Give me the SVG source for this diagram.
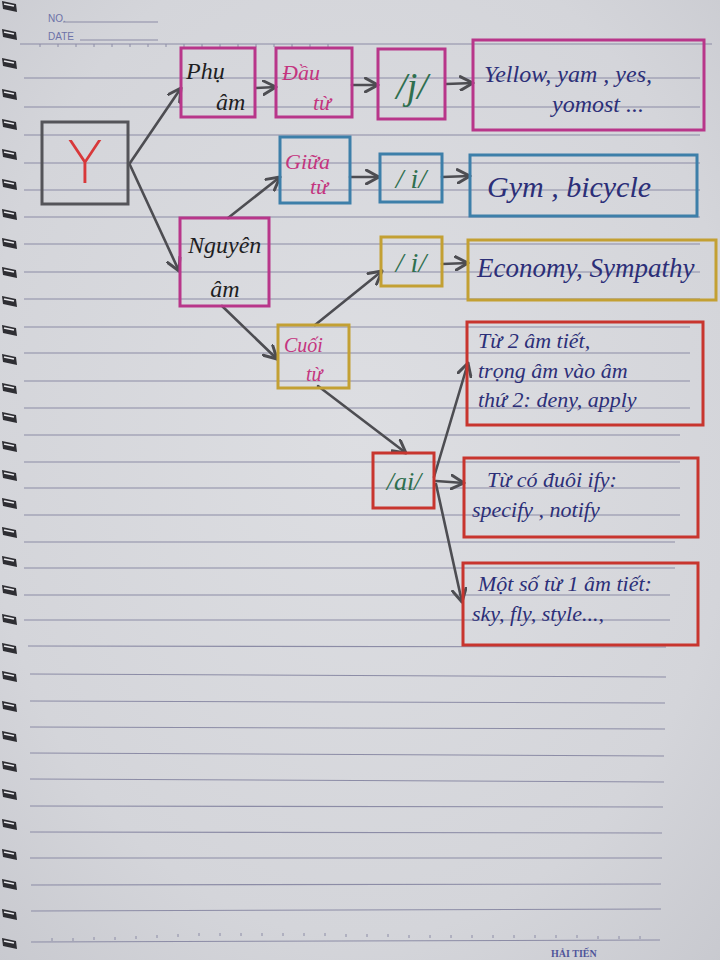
<svg xmlns="http://www.w3.org/2000/svg" width="720" height="960" viewBox="0 0 720 960">
<defs>
<radialGradient id="paperG" cx="0.5" cy="0.45" r="0.75">
<stop offset="0" stop-color="#dddee2"/>
<stop offset="0.7" stop-color="#d4d5da"/>
<stop offset="1" stop-color="#c8c9cf"/>
</radialGradient>
<marker id="arr" markerUnits="userSpaceOnUse" markerWidth="16" markerHeight="16" refX="12" refY="7" orient="auto" viewBox="0 0 14 14">
<path d="M1,1 L12,7 L1,13" fill="none" stroke="#4d4d52" stroke-width="2.6" stroke-linecap="round" stroke-linejoin="round"/>
</marker>
<g id="ring">
<path d="M2,0 L16,3 L17,11 L3,8 Z" fill="#2e2e33"/>
<path d="M4,3 L14,5" stroke="#e8e8ec" stroke-width="1.6"/>
</g>
</defs>
<style>
.rule{stroke:#8c8ca6;stroke-width:1.1;fill:none}
.tick{stroke:#8c8ca6;stroke-width:1}
.box{fill:none;stroke-width:3}
.mag{stroke:#b8368a}
.blu{stroke:#3d7fa9}
.yel{stroke:#c3a033}
.red{stroke:#c8352e}
.gry{stroke:#545459}
.conn{stroke:#4d4d52;stroke-width:2.6;fill:none;stroke-linecap:round}
.hw{font-family:"Liberation Serif","DejaVu Serif",serif;font-style:italic}
.blk{fill:#1e1e22}
.pnk{fill:#c4357f}
.grn{fill:#2f6f4f}
.ind{fill:#2c2f78}
.hdr{font-family:"Liberation Sans",Arial,sans-serif;fill:#6d72a8}
</style>
<g id="paper">
<rect x="0" y="0" width="720" height="960" fill="url(#paperG)"/>
<g id="spiral">
<use href="#ring" y="1"/><use href="#ring" y="29"/><use href="#ring" y="58"/><use href="#ring" y="89"/>
<use href="#ring" y="119"/><use href="#ring" y="149"/><use href="#ring" y="179"/><use href="#ring" y="209"/>
<use href="#ring" y="238"/><use href="#ring" y="267"/><use href="#ring" y="296"/><use href="#ring" y="325"/>
<use href="#ring" y="354"/><use href="#ring" y="383"/><use href="#ring" y="412"/><use href="#ring" y="441"/>
<use href="#ring" y="470"/><use href="#ring" y="498"/><use href="#ring" y="527"/><use href="#ring" y="556"/>
<use href="#ring" y="585"/><use href="#ring" y="614"/><use href="#ring" y="643"/><use href="#ring" y="671"/>
<use href="#ring" y="701"/><use href="#ring" y="731"/><use href="#ring" y="761"/><use href="#ring" y="789"/>
<use href="#ring" y="819"/><use href="#ring" y="849"/><use href="#ring" y="879"/><use href="#ring" y="909"/>
<use href="#ring" y="938"/>
</g>
<g id="rules">
<line class="rule" x1="20" y1="44" x2="712" y2="44"/>
<line class="rule" x1="24" y1="78" x2="700" y2="78"/>
<line class="rule" x1="24" y1="107" x2="700" y2="107"/>
<line class="rule" x1="24" y1="135" x2="700" y2="135"/>
<line class="rule" x1="24" y1="163" x2="700" y2="163"/>
<line class="rule" x1="24" y1="190" x2="700" y2="190"/>
<line class="rule" x1="24" y1="217" x2="700" y2="217"/>
<line class="rule" x1="24" y1="244" x2="700" y2="244"/>
<line class="rule" x1="24" y1="272" x2="700" y2="272"/>
<line class="rule" x1="24" y1="299" x2="700" y2="299"/>
<line class="rule" x1="24" y1="327" x2="690" y2="327"/>
<line class="rule" x1="24" y1="353" x2="690" y2="353"/>
<line class="rule" x1="24" y1="381" x2="690" y2="381"/>
<line class="rule" x1="24" y1="408" x2="690" y2="408"/>
<line class="rule" x1="24" y1="435" x2="680" y2="435"/>
<line class="rule" x1="24" y1="462" x2="680" y2="462"/>
<line class="rule" x1="24" y1="488" x2="680" y2="488"/>
<line class="rule" x1="24" y1="515" x2="680" y2="515"/>
<line class="rule" x1="24" y1="542" x2="675" y2="542"/>
<line class="rule" x1="24" y1="568" x2="675" y2="568"/>
<line class="rule" x1="24" y1="595" x2="670" y2="595"/>
<line class="rule" x1="24" y1="620" x2="670" y2="620"/>
<line class="rule" x1="28" y1="646" x2="666" y2="647"/>
<line class="rule" x1="30" y1="674" x2="666" y2="677"/>
<line class="rule" x1="30" y1="701" x2="665" y2="703"/>
<line class="rule" x1="30" y1="727" x2="665" y2="729"/>
<line class="rule" x1="30" y1="753" x2="664" y2="756"/>
<line class="rule" x1="30" y1="779" x2="664" y2="782"/>
<line class="rule" x1="30" y1="806" x2="663" y2="807"/>
<line class="rule" x1="30" y1="832" x2="662" y2="833"/>
<line class="rule" x1="30" y1="858" x2="662" y2="858"/>
<line class="rule" x1="31" y1="885" x2="661" y2="884"/>
<line class="rule" x1="31" y1="911" x2="661" y2="909"/>
<line class="rule" x1="31" y1="942" x2="660" y2="940"/>
<path class="tick" d="M40,44v3M58,44v3M76,44v3M94,44v3M112,44v3M130,44v3M148,44v3M166,44v3M184,44v3M202,44v3M220,44v3M238,44v3M256,44v3M274,44v3M292,44v3M310,44v3M328,44v3"/>
<path class="tick" d="M52,941v-3M73,941v-3M94,940v-3M115,940v-3M136,939v-3M157,938v-3M178,937v-3M199,936v-3M220,936v-3M241,936v-3M262,936v-3M283,936v-3M304,936v-3M325,936v-3M346,937v-3M367,937v-3M388,937v-3M409,938v-3M430,938v-3M451,938v-3M472,938v-3M493,938v-3M514,938v-3M535,938v-3M556,938v-3M577,938v-3M598,939v-3M619,939v-3M640,939v-3"/>
<text class="hdr" x="48" y="22" font-size="10">NO.</text>
<line class="rule" x1="63" y1="22" x2="158" y2="22"/>
<text class="hdr" x="48" y="40" font-size="10">DATE</text>
<line class="rule" x1="80" y1="40" x2="158" y2="40"/>
<text x="551" y="957" font-family="Liberation Serif,serif" font-size="10" font-weight="bold" fill="#4f559a">HẢI TIẾN</text>
</g>
</g>
<g id="connectors">
<line class="conn" x1="130" y1="163" x2="181" y2="88" marker-end="url(#arr)"/>
<line class="conn" x1="130" y1="165" x2="179" y2="271" marker-end="url(#arr)"/>
<line class="conn" x1="256" y1="88" x2="276" y2="87" marker-end="url(#arr)"/>
<line class="conn" x1="352" y1="85" x2="378" y2="85" marker-end="url(#arr)"/>
<line class="conn" x1="446" y1="84" x2="473" y2="83" marker-end="url(#arr)"/>
<line class="conn" x1="228" y1="218" x2="280" y2="177" marker-end="url(#arr)"/>
<line class="conn" x1="350" y1="177" x2="379" y2="177" marker-end="url(#arr)"/>
<line class="conn" x1="442" y1="177" x2="470" y2="176" marker-end="url(#arr)"/>
<line class="conn" x1="315" y1="325" x2="382" y2="271" marker-end="url(#arr)"/>
<line class="conn" x1="442" y1="264" x2="468" y2="263" marker-end="url(#arr)"/>
<line class="conn" x1="222" y1="306" x2="277" y2="359" marker-end="url(#arr)"/>
<line class="conn" x1="318" y1="386" x2="406" y2="453" marker-end="url(#arr)"/>
<line class="conn" x1="434" y1="477" x2="468" y2="363" marker-end="url(#arr)"/>
<line class="conn" x1="436" y1="481" x2="464" y2="483" marker-end="url(#arr)"/>
<line class="conn" x1="436" y1="484" x2="462" y2="602" marker-end="url(#arr)"/>
</g>
<g id="node-y">
<rect class="box gry" x="42" y="122" width="86" height="82"/>
<text x="85" y="183" text-anchor="middle" font-family="DejaVu Sans,sans-serif" font-weight="200" font-size="58" fill="#d8383a">Y</text>
</g>
<g id="node-phu-am">
<rect class="box mag" x="181" y="48" width="74" height="69"/>
<text class="hw blk" x="186" y="79" font-size="24">Phụ</text>
<text class="hw blk" x="216" y="110" font-size="24">âm</text>
</g>
<g id="node-dau-tu">
<rect class="box mag" x="276" y="48" width="76" height="69"/>
<text class="hw pnk" x="282" y="80" font-size="22">Đầu</text>
<text class="hw pnk" x="313" y="110" font-size="22">từ</text>
</g>
<g id="node-j">
<rect class="box mag" x="378" y="49" width="67" height="70"/>
<text class="hw grn" x="412" y="99" text-anchor="middle" font-size="38">/j/</text>
</g>
<g id="node-yellow">
<rect class="box mag" x="473" y="40" width="231" height="90"/>
<text class="hw ind" x="484" y="82" font-size="24">Yellow, yam , yes,</text>
<text class="hw ind" x="598" y="112" text-anchor="middle" font-size="24">yomost ...</text>
</g>
<g id="node-giua-tu">
<rect class="box blu" x="280" y="137" width="70" height="66"/>
<text class="hw pnk" x="285" y="169" font-size="22">Giữa</text>
<text class="hw pnk" x="310" y="194" font-size="22">từ</text>
</g>
<g id="node-i-mid">
<rect class="box blu" x="380" y="154" width="62" height="48"/>
<text class="hw grn" x="411" y="188" text-anchor="middle" font-size="28">/ i/</text>
</g>
<g id="node-gym">
<rect class="box blu" x="470" y="155" width="227" height="61"/>
<text class="hw ind" x="487" y="197" font-size="30">Gym , bicycle</text>
</g>
<g id="node-nguyen-am">
<rect class="box mag" x="180" y="218" width="89" height="88"/>
<text class="hw blk" x="188" y="253" font-size="24">Nguyên</text>
<text class="hw blk" x="225" y="297" text-anchor="middle" font-size="24">âm</text>
</g>
<g id="node-i-end">
<rect class="box yel" x="381" y="237" width="61" height="49"/>
<text class="hw grn" x="411" y="272" text-anchor="middle" font-size="28">/ i/</text>
</g>
<g id="node-economy">
<rect class="box yel" x="468" y="240" width="248" height="60"/>
<text class="hw ind" x="477" y="277" font-size="27">Economy, Sympathy</text>
</g>
<g id="node-cuoi-tu">
<rect class="box yel" x="278" y="325" width="71" height="63"/>
<text class="hw pnk" x="284" y="352" font-size="20">Cuối</text>
<text class="hw pnk" x="306" y="381" font-size="20">từ</text>
</g>
<g id="node-ai">
<rect class="box red" x="373" y="453" width="61" height="55"/>
<text class="hw grn" x="404" y="490" text-anchor="middle" font-size="26">/ai/</text>
</g>
<g id="node-two-syllable">
<rect class="box red" x="467" y="322" width="236" height="103"/>
<text class="hw ind" x="478" y="348" font-size="22">Từ 2 âm tiết,</text>
<text class="hw ind" x="478" y="378" font-size="22">trọng âm vào âm</text>
<text class="hw ind" x="478" y="407" font-size="22">thứ 2: deny, apply</text>
</g>
<g id="node-ify">
<rect class="box red" x="464" y="458" width="234" height="79"/>
<text class="hw ind" x="487" y="487" font-size="22">Từ có đuôi ify:</text>
<text class="hw ind" x="472" y="517" font-size="22">specify , notify</text>
</g>
<g id="node-one-syllable">
<rect class="box red" x="463" y="563" width="235" height="82"/>
<text class="hw ind" x="478" y="591" font-size="22">Một số từ 1 âm tiết:</text>
<text class="hw ind" x="472" y="621" font-size="22">sky, fly, style...,</text>
</g>
</svg>
